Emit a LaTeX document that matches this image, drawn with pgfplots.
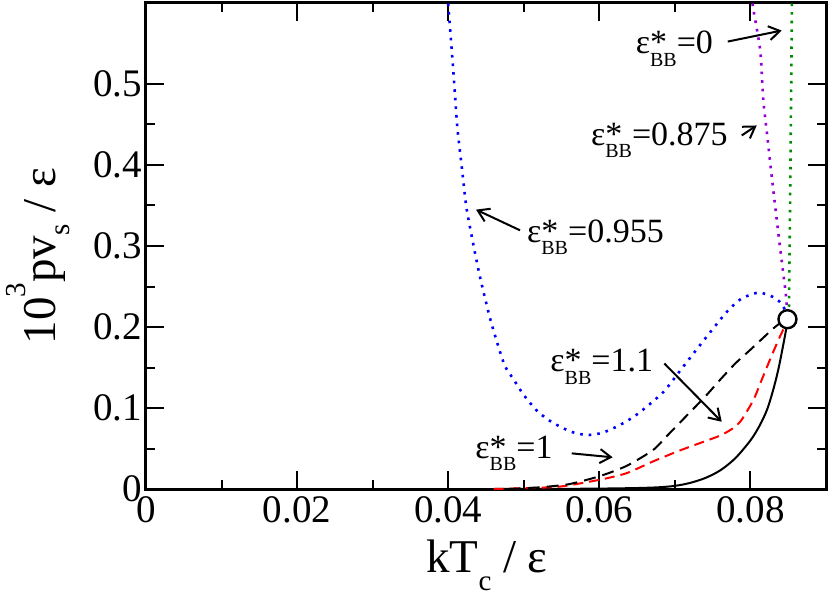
\documentclass[border=0pt]{standalone}
\usepackage{fontspec}
\setmainfont{Liberation Serif}
\usepackage{pgfplots}
\pgfplotsset{compat=1.18}
\usetikzlibrary{calc,arrows.meta}
\definecolor{myviolet}{RGB}{148,0,211}
\definecolor{mygreen}{RGB}{0,139,0}
\newcommand{\annfont}{\fontsize{17}{20}\selectfont}
\newcommand{\EBB}{ε\rlap{\fontsize{17}{18}\selectfont *}\raisebox{-6.3pt}{\fontsize{10}{10}\selectfont BB}}
\begin{document}
\begin{tikzpicture}
\begin{axis}[name=ax, at={(0,0)}, anchor=south west,
  scale only axis, width=340pt, height=243pt,
  xmin=0, xmax=0.09, ymin=0, ymax=0.6,
  scaled x ticks=false, scaled y ticks=false,
  xtick={0,0.02,0.04,0.06,0.08}, xticklabels={0,0.02,0.04,0.06,0.08},
  ytick={0,0.1,0.2,0.3,0.4,0.5}, yticklabels={0,0.1,0.2,0.3,0.4,0.5},
  minor x tick num=1, minor y tick num=1,
  tick align=inside, major tick length=9pt, minor tick length=4.5pt,
  every tick/.style={black, line width=1pt},
  axis line style={line width=1.5pt},
  tick label style={font=\fontsize{19.5}{21}\selectfont},
  yticklabel style={xshift=1.5pt},
  xlabel={kT\raisebox{-0.4em}{\fontsize{14.5}{15}\selectfont c} / ε},
  ylabel={10\raisebox{0.62em}{\fontsize{14.5}{15}\selectfont 3}pv\raisebox{-0.3em}{\fontsize{14.5}{15}\selectfont s} / ε},
  xlabel style={at={(axis description cs:0.5015,-0.1708)}, anchor=base, font=\fontsize{23.5}{26}\selectfont, inner sep=0pt},
  ylabel style={at={(axis description cs:-0.1338,0.479)}, anchor=base, font=\fontsize{23.5}{26}\selectfont, inner sep=0pt},
]
% eps_BB = 1 (black solid)
\addplot[black, line width=1pt, smooth, tension=0.5] coordinates {
(0.0460,0.0000) (0.0550,0.0002) (0.0600,0.0005) (0.0650,0.0012) (0.0680,0.0022) (0.0701,0.0040)
(0.0720,0.0075) (0.0740,0.0135) (0.0760,0.0230) (0.0780,0.0380) (0.0800,0.0600) (0.0812,0.0780)
(0.0822,0.0980) (0.0830,0.1220) (0.0837,0.1480) (0.0843,0.1760) (0.0847,0.1960) (0.0849,0.2096)};
% red dashed
\addplot[red, line width=1pt, dash pattern=on 5pt off 3pt, smooth, tension=0.4] coordinates {
(0.0460,0.0000) (0.0500,0.0010) (0.0548,0.0030) (0.0601,0.0115) (0.0636,0.0195) (0.0671,0.0340)
(0.0705,0.0470) (0.0737,0.0580) (0.0760,0.0660) (0.0777,0.0750) (0.0788,0.0850) (0.0804,0.1100)
(0.0815,0.1350) (0.0826,0.1600) (0.0837,0.1840) (0.0844,0.1980) (0.0849,0.2096)};
% black dashed
\addplot[black, line width=1pt, dash pattern=on 6pt off 3.5pt, smooth, tension=0.4] coordinates {
(0.0480,0.0000) (0.0520,0.0020) (0.0560,0.0060) (0.0601,0.0160) (0.0636,0.0285) (0.0671,0.0480)
(0.0690,0.0660) (0.0715,0.0900) (0.0740,0.1140) (0.0760,0.1350) (0.0780,0.1550) (0.0800,0.1720)
(0.0815,0.1850) (0.0830,0.1980) (0.0842,0.2070)};
% blue dotted 0.955
\addplot[blue, line width=1.3pt, dash pattern=on 1.3pt off 3pt, smooth, tension=0.4] coordinates {
(0.0399,0.6100) (0.0401,0.5860) (0.0407,0.5130) (0.0412,0.4470) (0.0418,0.3970) (0.0424,0.3480)
(0.0433,0.3030) (0.0442,0.2620) (0.0455,0.2120) (0.0465,0.1800) (0.0475,0.1520) (0.0486,0.1360)
(0.0500,0.1160) (0.0517,0.0970) (0.0533,0.0850) (0.0550,0.0760) (0.0565,0.0700) (0.0583,0.0666)
(0.0600,0.0685) (0.0614,0.0730) (0.0635,0.0830) (0.0654,0.0950) (0.0685,0.1200) (0.0711,0.1510)
(0.0742,0.1880) (0.0769,0.2190) (0.0788,0.2350) (0.0811,0.2425) (0.0830,0.2370) (0.0841,0.2290)
(0.0849,0.2150)};
% violet dotted 0.875
\addplot[myviolet, line width=1.3pt, dash pattern=on 1.3pt off 3pt, smooth, tension=0.4] coordinates {
(0.0802,0.6100) (0.0803,0.5970) (0.0813,0.5410) (0.0817,0.4800) (0.0823,0.4300) (0.0827,0.3950)
(0.0830,0.3710) (0.0837,0.3150) (0.0844,0.2620) (0.0847,0.2390) (0.0849,0.2150)};
% green dotted 0
\addplot[mygreen, line width=1.3pt, dash pattern=on 1.3pt off 3pt] coordinates {
(0.0855,0.6100) (0.0853,0.4000) (0.0851,0.2250)};
% critical point
\addplot[only marks, mark=*, mark size=4.5pt, mark options={fill=white, draw=black, line width=1.2pt}] coordinates {(0.0849,0.2096)};
% annotations
\node[anchor=base east, font=\annfont, inner sep=0pt] at (axis cs:0.07509,0.5376) {\EBB=0};
\draw[line width=1pt, -{Straight Barb[length=5.5pt,width=7pt]}] (axis cs:0.07700,0.5524) -- (axis cs:0.08414,0.5660);
\node[anchor=base east, font=\annfont, inner sep=0pt] at (axis cs:0.07704,0.4242) {\EBB=0.875};
\draw[line width=1pt, -{Straight Barb[length=5.5pt,width=7pt]}] (axis cs:0.07885,0.4365) -- (axis cs:0.08083,0.4488);
\node[anchor=base west, font=\annfont, inner sep=0pt] at (axis cs:0.05039,0.3049) {\EBB=0.955};
\draw[line width=1pt, -{Straight Barb[length=5.5pt,width=7pt]}] (axis cs:0.04950,0.3194) -- (axis cs:0.04368,0.3449);
\node[anchor=base west, font=\annfont, inner sep=0pt] at (axis cs:0.05347,0.1446) {\EBB=1.1};
\draw[line width=1pt, -{Straight Barb[length=5.5pt,width=7pt]}] (axis cs:0.06860,0.1550) -- (axis cs:0.07620,0.0830);
\node[anchor=base west, font=\annfont, inner sep=0pt] at (axis cs:0.04355,0.0382) {\EBB=1};
\draw[line width=1pt, -{Straight Barb[length=5.5pt,width=7pt]}] (axis cs:0.05635,0.0440) -- (axis cs:0.06177,0.0391);
\end{axis}
\pgfresetboundingbox
\path ($(ax.south west)+(-73pt,-53pt)$) rectangle ($(ax.north east)+(2pt,1.5pt)$);
\end{tikzpicture}
\end{document}
